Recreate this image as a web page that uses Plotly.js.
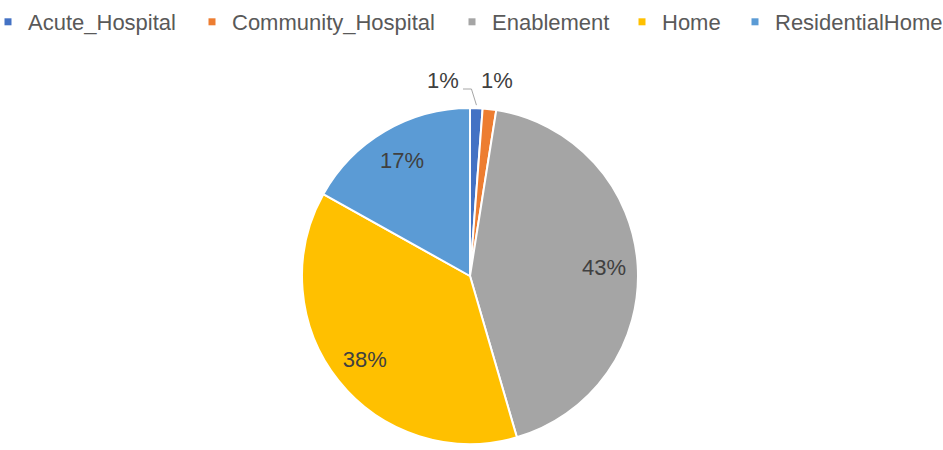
<!DOCTYPE html>
<html>
<head>
<meta charset="utf-8">
<script src="https://cdn.plot.ly/plotly-3.0.1.min.js"></script>
<style>html,body{margin:0;padding:0;background:#fff}#chart{width:943px;height:450px}</style>
</head>
<body>
<div id="chart"></div>
<script>
const categories = ["Acute_Hospital", "Community_Hospital", "Enablement", "Home", "ResidentialHome"];
const shares = [1.2, 1.3, 43.0, 37.6, 16.9];
const colors = ["#4472C4", "#ED7D31", "#A5A5A5", "#FFC000", "#5B9BD5"];
const insideLabel = [false, false, true, true, true];

const FONT = "Liberation Sans, Arial, sans-serif";
const W = 943, H = 450;
const M = {l: 0, r: 3, t: 108, b: 6};
const plotW = W - M.l - M.r, plotH = H - M.t - M.b;
const cx = M.l + plotW / 2, cy = M.t + plotH / 2, R = Math.min(plotW, plotH) / 2;
const toPaperX = px => (px - M.l) / plotW;
const toPaperY = py => (H - M.b - py) / plotH;

const total = shares.reduce((a, b) => a + b, 0);
const pctText = shares.map(v => Math.round(v / total * 100) + "%");

// main pie (no text)
const pie = {
  type: "pie",
  labels: categories,
  values: shares,
  sort: false,
  direction: "clockwise",
  rotation: 0,
  marker: {colors: colors, line: {color: "#ffffff", width: 2}},
  textposition: "none",
  showlegend: false,
  hoverinfo: "label+percent",
  domain: {x: [0, 1], y: [0, 1]}
};

// transparent ring carrying the inside percentage labels at ~0.8 R
const ring = {
  type: "pie",
  labels: categories,
  values: shares,
  sort: false,
  direction: "clockwise",
  rotation: 0,
  hole: 0.6,
  marker: {colors: categories.map(() => "rgba(0,0,0,0)"), line: {width: 0}},
  texttemplate: "%{percent:.0%}",
  textposition: insideLabel.map(b => b ? "inside" : "none"),
  insidetextorientation: "horizontal",
  textfont: {family: FONT, size: 22, color: "#404040"},
  showlegend: false,
  hoverinfo: "skip",
  domain: {x: [0, 1], y: [0, 1]}
};

// legend-only traces (small square markers)
const legendX = [0, 192, 452, 622, 735];
const legendIndent = [-12, 0, 0, 0, 0];
const legendTraces = categories.map((c, i) => ({
  type: "scatter", mode: "markers", x: [null], y: [null], name: c,
  marker: {symbol: "square", size: 7, color: colors[i]},
  legend: i === 0 ? "legend" : "legend" + (i + 1),
  hoverinfo: "skip"
}));

const legendBase = {
  orientation: "h", xref: "container", yref: "container", xanchor: "left",
  y: 1 - 22 / H, yanchor: "middle", bgcolor: "rgba(0,0,0,0)",
  font: {family: FONT, size: 22, color: "#595959"}, itemwidth: 30
};
const layout = {
  width: W, height: H, margin: M,
  paper_bgcolor: "#ffffff", plot_bgcolor: "rgba(0,0,0,0)",
  showlegend: true,
  xaxis: {visible: false}, yaxis: {visible: false},
  annotations: [], shapes: []
};
legendX.forEach((x, i) => {
  layout[i === 0 ? "legend" : "legend" + (i + 1)] =
    Object.assign({}, legendBase, {x: x / W, indentation: legendIndent[i]});
});

// outside labels for the two small slices
const labelPos = [[443, 80], [497, 80]];
[0, 1].forEach(i => {
  layout.annotations.push({
    xref: "paper", yref: "paper", x: toPaperX(labelPos[i][0]), y: toPaperY(labelPos[i][1]),
    text: pctText[i], showarrow: false, xanchor: "center", yanchor: "middle",
    font: {family: FONT, size: 22, color: "#404040"}
  });
});
// leader line from first label to the middle of its slice
const midA = 2 * Math.PI * (shares[0] / 2) / total;
const ex = cx + (R + 3) * Math.sin(midA), ey = cy - (R + 3) * Math.cos(midA);
const pts = [[463, 89], [ex - 5, 89], [ex, ey]];
layout.shapes.push({
  type: "path", xref: "paper", yref: "paper",
  path: "M" + pts.map(p => toPaperX(p[0]) + "," + toPaperY(p[1])).join(" L"),
  line: {color: "#A6A6A6", width: 1}
});

Plotly.newPlot("chart", [pie, ring].concat(legendTraces), layout, {displayModeBar: false, staticPlot: true});
</script>
</body>
</html>
